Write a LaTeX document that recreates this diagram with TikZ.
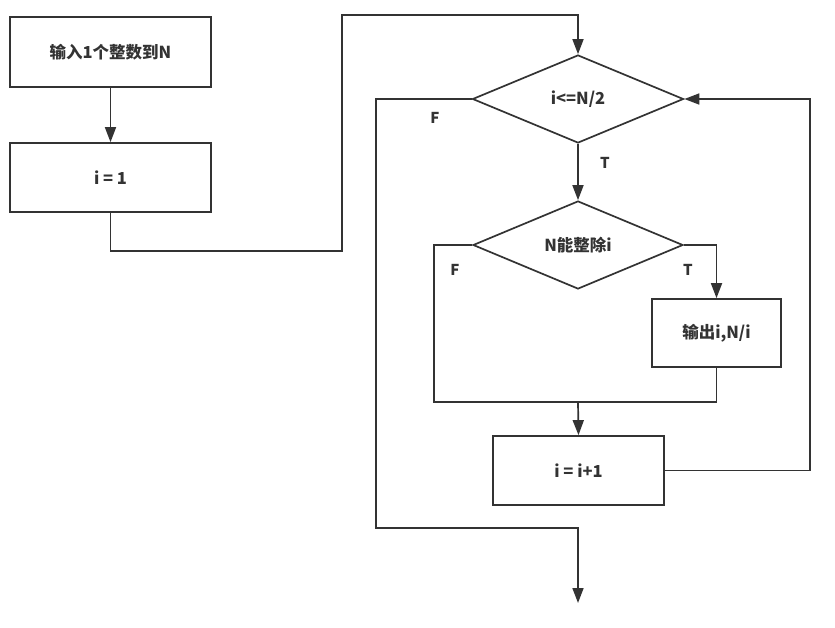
\documentclass[tikz,border=0pt]{standalone}
\usepackage{fontspec}
\setmainfont{Noto Sans CJK SC}
\usetikzlibrary{shapes.geometric,arrows.meta}
\definecolor{ink}{HTML}{333333}
\tikzset{
  every node/.style={font=\fontsize{16.5pt}{19pt}\selectfont\bfseries, text=ink},
  box/.style={draw=ink, line width=1.7pt, rectangle, inner sep=0pt},
  cond/.style={draw=ink, line width=1.7pt, diamond, inner sep=0pt, aspect=2.4},
  line/.style={draw=ink, line width=1.7pt},
  arr/.style={line, -{Triangle[length=15pt,width=11pt]}},
  lab/.style={font=\fontsize{15pt}{17pt}\selectfont\bfseries}
}
\begin{document}
\begin{tikzpicture}[x=1pt,y=-1pt]
    \useasboundingbox (0,0) rectangle (835,627);
    % boxes and conditions
    \node[box, minimum width=201pt, minimum height=70pt] (input) at (110.5,52) {输入1个整数到N};
    \node[box, minimum width=201pt, minimum height=69pt] (init) at (110.5,177.5) {i = 1};
    \node[cond, minimum width=211pt, minimum height=88pt] (loop) at (578,99) {i<=N/2};
    \node[cond, minimum width=210pt, minimum height=88pt] (test) at (578,245) {N能整除i};
    \node[box, minimum width=129pt, minimum height=68pt] (print) at (716.5,333) {输出i,N/i};
    \node[box, minimum width=171pt, minimum height=69pt] (step) at (578.5,470.5) {i = i+1};
    % bends
    \coordinate (turnA) at (342,251);
    \coordinate (turnB) at (342,15);
    \coordinate (exitL) at (376,528);
    \coordinate (stop) at (578,603);
    \coordinate (joinL) at (434,402);
    \coordinate (join) at (578,402);
    \coordinate (back) at (810,99);
    % connectors
    \draw[arr] (input) -- (init);
    \draw[arr] (init.south) |- (turnA) -- (turnB) -| (loop.north);
    \draw[arr] (loop.west) -| (exitL) -| (stop);
    \draw[arr] (loop.south) -- (test.north);
    \draw[arr] (test.east) -| (print.north);
    \draw[line] (test.west) -| (joinL) -| (print.south);
    \draw[arr] (join) -- (step.north);
    \draw[arr] (step.east) -| (back) -- (loop.east);
    % labels
    \node[lab] (f1) at (435,118) {F};
    \node[lab] (t1) at (605,163) {T};
    \node[lab] (f2) at (455,270) {F};
    \node[lab] (t2) at (688,270) {T};
\end{tikzpicture}
\end{document}
